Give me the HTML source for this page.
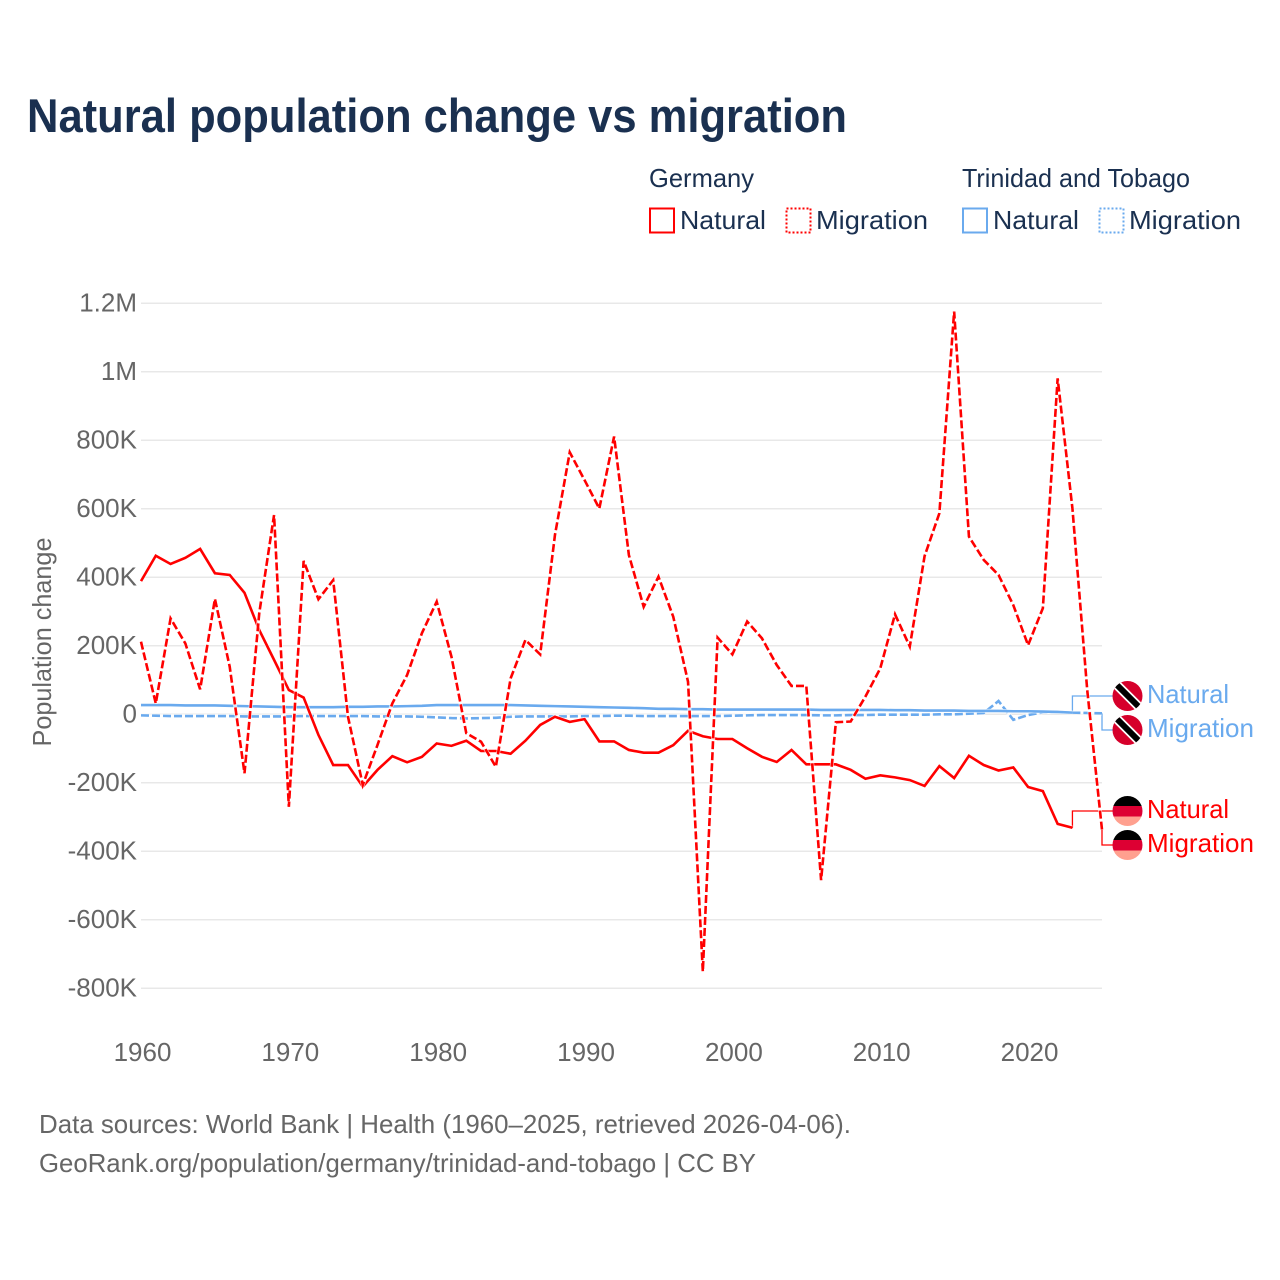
<!DOCTYPE html>
<html lang="en">
<head>
<meta charset="utf-8">
<title>Natural population change vs migration</title>
<style>
html,body{margin:0;padding:0;background:#fff}
svg{display:block;font-family:"Liberation Sans",sans-serif}
</style>
</head>
<body>
<svg id="chart" xmlns="http://www.w3.org/2000/svg" width="1280" height="1280" viewBox="0 0 1280 1280">
  <rect width="1280" height="1280" fill="#fff"/>
  <text x="27" y="132" font-size="47" font-weight="700" fill="#1a3050" textLength="820" lengthAdjust="spacingAndGlyphs">Natural population change vs migration</text>

  <g font-size="26" fill="#1a3050">
    <text x="649" y="187" textLength="105" lengthAdjust="spacingAndGlyphs">Germany</text>
    <text x="962" y="187" textLength="228" lengthAdjust="spacingAndGlyphs">Trinidad and Tobago</text>
    <rect x="650" y="208.5" width="24" height="24" fill="none" stroke="#ff0000" stroke-width="2"/>
    <text x="680" y="229" textLength="86" lengthAdjust="spacingAndGlyphs">Natural</text>
    <rect x="786.5" y="208.5" width="24" height="24" fill="none" stroke="#ff0000" stroke-width="2" stroke-dasharray="2,2"/>
    <text x="816" y="229" textLength="112" lengthAdjust="spacingAndGlyphs">Migration</text>
    <rect x="963" y="208.5" width="24" height="24" fill="none" stroke="#6aaaee" stroke-width="2"/>
    <text x="993" y="229" textLength="86" lengthAdjust="spacingAndGlyphs">Natural</text>
    <rect x="1099.5" y="208.5" width="24" height="24" fill="none" stroke="#6aaaee" stroke-width="2" stroke-dasharray="2,2"/>
    <text x="1129" y="229" textLength="112" lengthAdjust="spacingAndGlyphs">Migration</text>
  </g>

  <g id="grid"></g>
  <g id="yticks" font-size="26" fill="#666" text-anchor="end"></g>
  <g id="xticks" font-size="26" fill="#666" text-anchor="middle"></g>
  <text transform="translate(51,642) rotate(-90)" font-size="26" fill="#666" text-anchor="middle" textLength="209" lengthAdjust="spacingAndGlyphs">Population change</text>

  <g id="series"></g>

  <defs>
    <clipPath id="flag-clip-tt1"><circle cx="1127.5" cy="696" r="15"/></clipPath>
    <clipPath id="flag-clip-tt2"><circle cx="1127.5" cy="730" r="15"/></clipPath>
    <clipPath id="flag-clip-de1"><circle cx="1127.5" cy="811" r="15"/></clipPath>
    <clipPath id="flag-clip-de2"><circle cx="1127.5" cy="845" r="15"/></clipPath>
  </defs>
  <g clip-path="url(#flag-clip-tt1)">
    <rect x="1112" y="680" width="31" height="32" fill="#d6002b"/>
    <line x1="1112" y1="680" x2="1143" y2="711" stroke="#fff" stroke-width="9.5"/>
    <line x1="1112" y1="680" x2="1143" y2="711" stroke="#000" stroke-width="6"/>
  </g>
  <g clip-path="url(#flag-clip-tt2)">
    <rect x="1112" y="714" width="31" height="32" fill="#d6002b"/>
    <line x1="1112" y1="714" x2="1143" y2="745" stroke="#fff" stroke-width="9.5"/>
    <line x1="1112" y1="714" x2="1143" y2="745" stroke="#000" stroke-width="6"/>
  </g>
  <g clip-path="url(#flag-clip-de1)">
    <rect x="1112" y="796" width="31" height="10" fill="#000"/>
    <rect x="1112" y="806" width="31" height="10.5" fill="#dd0033"/>
    <rect x="1112" y="816.5" width="31" height="10" fill="#ffa08f"/>
  </g>
  <g clip-path="url(#flag-clip-de2)">
    <rect x="1112" y="830" width="31" height="10" fill="#000"/>
    <rect x="1112" y="840" width="31" height="10.5" fill="#dd0033"/>
    <rect x="1112" y="850.5" width="31" height="10" fill="#ffa08f"/>
  </g>
  <g font-size="26">
    <text x="1147" y="703" fill="#6aaaee" textLength="82" lengthAdjust="spacingAndGlyphs">Natural</text>
    <text x="1147" y="737" fill="#6aaaee" textLength="107" lengthAdjust="spacingAndGlyphs">Migration</text>
    <text x="1147" y="818" fill="#ff0000" textLength="82" lengthAdjust="spacingAndGlyphs">Natural</text>
    <text x="1147" y="852" fill="#ff0000" textLength="107" lengthAdjust="spacingAndGlyphs">Migration</text>
  </g>

  <g font-size="26" fill="#666">
    <text x="39" y="1133" textLength="812" lengthAdjust="spacingAndGlyphs">Data sources: World Bank | Health (1960–2025, retrieved 2026-04-06).</text>
    <text x="39" y="1172" textLength="717" lengthAdjust="spacingAndGlyphs">GeoRank.org/population/germany/trinidad-and-tobago | CC BY</text>
  </g>
</svg>
<script>
const yTickValues = [1200, 1000, 800, 600, 400, 200, 0, -200, -400, -600, -800];
const yTickLabels = ["1.2M", "1M", "800K", "600K", "400K", "200K", "0", "-200K", "-400K", "-600K", "-800K"];
const xTickYears = [1960, 1970, 1980, 1990, 2000, 2010, 2020];

const germanyNaturalStart = 1960;
const germanyNatural = [388,462,438,456,482,411,406,354,245,158,70,48,-61,-149,-149,-212,-163,-123,-141,-125,-86,-93,-78,-108,-108,-116,-78,-32,-8,-23,-15,-80,-80,-105,-113,-113,-91,-49,-65,-73,-73,-100,-125,-140,-105,-147,-147,-147,-163,-189,-179,-185,-193,-210,-152,-187,-122,-149,-165,-156,-213,-225,-321,-332];
const germanyMigration = [211,31,279,206,72,336,138,-173,295,581,-271,447,335,391,-8,-207,-90,31,114,236,328,167,-56,-81,-154,104,216,174,523,764,683,600,810,464,313,401,284,94,-752,223,174,270,221,143,82,82,-485,-24,-22,51,133,291,197,461,586,1175,518,450,406,318,201,309,980,600,70,-338];
const trinidadNatural = [26,26,26,25,25,25,24,23,22,21,20,20,20,20,21,21,22,22,23,24,26,26,26,26,26,26,25,24,23,22,21,20,19,18,17,15,15,14,14,13,13,13,13,13,13,13,12,12,12,12,12,11,11,10,10,10,9,9,9,8,8,7,6,4];
const trinidadMigration = [-4,-5,-6,-6,-6,-6,-6,-7,-7,-7,-7,-6,-6,-6,-6,-6,-7,-7,-7,-8,-10,-12,-13,-12,-11,-8,-7,-7,-7,-7,-6,-6,-5,-5,-6,-6,-6,-6,-6,-6,-5,-4,-3,-3,-3,-3,-4,-4,-3,-3,-2,-2,-2,-2,-1,-1,1,3,38,-17,-3,5,6,4,3,2];

const svgNS = "http://www.w3.org/2000/svg";
const plotLeft = 141, plotRight = 1102, zeroY = 714, pxPerThousand = 68.5 / 200;
const yearPx = (plotRight - plotLeft) / 65;
function xScale(year) { return plotLeft + (year - 1960) * yearPx; }
function yScale(value) { return zeroY - value * pxPerThousand; }

const grid = document.getElementById("grid");
const yticks = document.getElementById("yticks");
const xticks = document.getElementById("xticks");
const seriesGroup = document.getElementById("series");

yTickValues.forEach(function (v, i) {
  const line = document.createElementNS(svgNS, "line");
  
  
  line.setAttribute("x1", plotLeft);
  line.setAttribute("x2", plotRight);
  line.setAttribute("y1", yScale(v) + 0.3);
  line.setAttribute("y2", yScale(v) + 0.3);
  line.setAttribute("stroke", "#e8e8e8");
  line.setAttribute("stroke-width", "1.5");
  grid.appendChild(line);
  const t = document.createElementNS(svgNS, "text");
  
  
  t.setAttribute("x", 137);
  t.setAttribute("y", yScale(v) + 8.5);
  t.textContent = yTickLabels[i];
  yticks.appendChild(t);
});

xTickYears.forEach(function (yr) {
  const t = document.createElementNS(svgNS, "text");
  
  
  t.setAttribute("x", xScale(yr) + 1.5);
  t.setAttribute("y", 1061);
  t.textContent = String(yr);
  xticks.appendChild(t);
});

function linePoints(values) {
  return values.map(function (v, i) {
    return xScale(germanyNaturalStart + i).toFixed(2) + "," + yScale(v).toFixed(2);
  }).join(" ");
}

function connector(values, labelY, name, color) {
  const lastX = xScale(germanyNaturalStart + values.length - 1);
  const lastY = yScale(values[values.length - 1]);
  const p = document.createElementNS(svgNS, "polyline");
  
  
  p.setAttribute("points", lastX + "," + lastY + " " + lastX + "," + labelY + " 1113," + labelY);
  p.setAttribute("fill", "none");
  p.setAttribute("stroke", color);
  p.setAttribute("stroke-width", "1.3");
  seriesGroup.appendChild(p);
}

function drawLine(values, name, color, dash) {
  const halo = document.createElementNS(svgNS, "polyline");
  
  
  halo.setAttribute("points", linePoints(values));
  halo.setAttribute("fill", "none");
  halo.setAttribute("stroke", "#fff");
  halo.setAttribute("stroke-width", "4");
  halo.setAttribute("stroke-opacity", "0.7");
  seriesGroup.appendChild(halo);
  const p = document.createElementNS(svgNS, "polyline");
  
  
  p.setAttribute("points", linePoints(values));
  p.setAttribute("fill", "none");
  p.setAttribute("stroke", color);
  p.setAttribute("stroke-width", "2.6");
  p.setAttribute("stroke-linejoin", "miter");
  if (dash) p.setAttribute("stroke-dasharray", dash);
  seriesGroup.appendChild(p);
}

connector(trinidadNatural, 696, 'connector-trinidad-natural', '#6aaaee');
connector(trinidadMigration, 730, 'connector-trinidad-migration', '#6aaaee');
connector(germanyNatural, 811, 'connector-germany-natural', '#ff0000');
connector(germanyMigration, 845, 'connector-germany-migration', '#ff0000');
drawLine(trinidadMigration, 'line-trinidad-migration', '#6aaaee', '8,3');
drawLine(trinidadNatural, 'line-trinidad-natural', '#6aaaee', null);
drawLine(germanyNatural, 'line-germany-natural', '#ff0000', null);
drawLine(germanyMigration, 'line-germany-migration', '#ff0000', '8,3');
</script>
</body>
</html>
